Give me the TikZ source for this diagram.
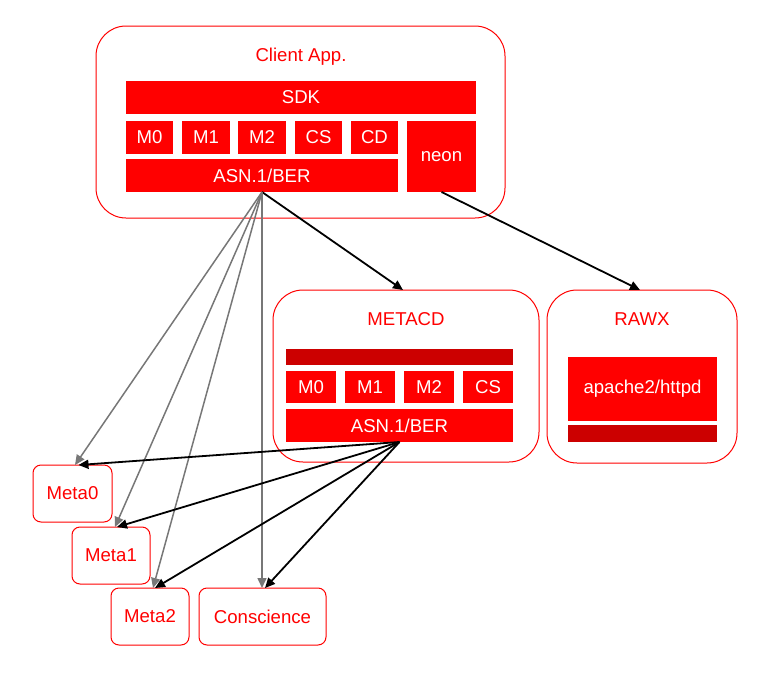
\documentclass[tikz,border=0pt]{standalone}
\usepackage{fontspec}
\setmainfont{Liberation Sans}
\usetikzlibrary{arrows.meta}
\definecolor{boxred}{RGB}{255,0,0}
\definecolor{darkred}{RGB}{204,0,0}
\definecolor{linkgray}{RGB}{119,119,119}
\begin{document}
\begin{tikzpicture}[x=1pt,y=-1pt,
  every node/.style={font=\fontsize{18.6}{22}\selectfont, inner sep=0pt, outer sep=0pt},
  group/.style={draw=boxred, line width=1pt, rounded corners=30pt, fill=white},
  title/.style={text=boxred},
  block/.style={fill=boxred, text=white},
  shade/.style={fill=darkred},
  leaf/.style={draw=boxred, line width=1pt, rounded corners=8pt, text=boxred,
    minimum width=#1, minimum height=57pt},
  dep/.style={-{Triangle[length=10pt,width=9pt]}, line width=1.8pt, black},
  sub/.style={-{Triangle[length=10pt,width=9pt]}, line width=1.5pt, linkgray}]
\useasboundingbox (0,0) rectangle (772,675);

% Client application
\node[group, minimum width=409pt, minimum height=192pt] (client) at (300.5,122) {};
\node[title] (clienttitle) at (301,57) {Client App.};
\node[block, minimum width=350pt, minimum height=33pt] (sdk) at (301,97.5) {SDK};
\node[block, minimum width=47pt, minimum height=33pt] (cm0) at (149.5,137.5) {M0};
\node[block, minimum width=48pt, minimum height=33pt] (cm1) at (206,137.5) {M1};
\node[block, minimum width=48pt, minimum height=33pt] (cm2) at (262,137.5) {M2};
\node[block, minimum width=47pt, minimum height=33pt] (ccs) at (318.5,137.5) {CS};
\node[block, minimum width=47pt, minimum height=33pt] (ccd) at (374.5,137.5) {CD};
\node[block, minimum width=272pt, minimum height=33pt] (casn) at (262,175.5) {ASN.1/BER};
\node[block, minimum width=69pt, minimum height=71pt] (neon) at (441.5,156.5) {neon};

% METACD service
\node[group, minimum width=266pt, minimum height=172pt] (metacd) at (406,376) {};
\node[title] (metacdtitle) at (406,319) {METACD};
\node[shade, minimum width=227pt, minimum height=16pt] (mbar) at (399.5,357) {};
\node[block, minimum width=50pt, minimum height=32pt] (mm0) at (311,387) {M0};
\node[block, minimum width=50pt, minimum height=32pt] (mm1) at (370,387) {M1};
\node[block, minimum width=50pt, minimum height=32pt] (mm2) at (429,387) {M2};
\node[block, minimum width=50pt, minimum height=32pt] (mcs) at (488,387) {CS};
\node[block, minimum width=227pt, minimum height=33pt] (masn) at (399.5,425.5) {ASN.1/BER};

% RAWX service
\node[group, minimum width=190pt, minimum height=173pt] (rawx) at (642,376.5) {};
\node[title] (rawxtitle) at (642,319) {RAWX};
\node[block, minimum width=149pt, minimum height=64pt] (httpd) at (642.5,389) {apache2/httpd};
\node[shade, minimum width=149pt, minimum height=17pt] (rbar) at (642.5,433.5) {};

% Back-end services
\node[leaf=79pt] (meta0) at (72.5,493.5) {Meta0};
\node[leaf=78pt] (meta1) at (111,555.5) {Meta1};
\node[leaf=78pt] (meta2) at (150,616.5) {Meta2};
\node[leaf=127pt] (consc) at (262.5,616.5) {Conscience};

% Client links
\draw[dep] (casn.south) -- ([xshift=-3pt]metacd.north);
\draw[dep] (neon.south) -- ([xshift=-2pt]rawx.north);
\draw[sub] (casn.south) -- ([xshift=2.5pt]meta0.north);
\draw[sub] (casn.south) -- ([xshift=4pt]meta1.north);
\draw[sub] (casn.south) -- ([xshift=3pt]meta2.north);
\draw[sub] (casn.south) -- ([xshift=-0.5pt]consc.north);

% METACD links
\draw[dep] (masn.south) -- ([xshift=6pt]meta0.north);
\draw[dep] (masn.south) -- ([xshift=6pt]meta1.north);
\draw[dep] (masn.south) -- ([xshift=5pt]meta2.north);
\draw[dep] (masn.south) -- ([xshift=2.5pt]consc.north);
\end{tikzpicture}
\end{document}
